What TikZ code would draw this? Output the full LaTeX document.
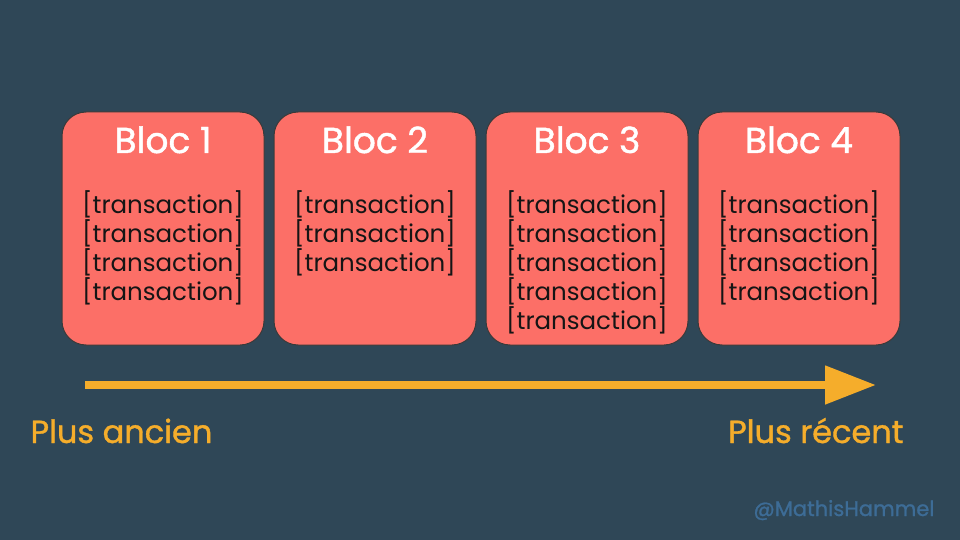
\documentclass[tikz,border=0pt]{standalone}
\usepackage{fontspec}
\setmainfont{Poppins}
\newfontfamily\epais[FakeBold=1.2]{Poppins}
\usetikzlibrary{positioning,arrows.meta}
\begin{document}
\begin{tikzpicture}[x=1pt,y=-1pt,
  bloc/.style={draw=color4,line width=1pt,fill=color2,rounded corners=24pt,
    minimum width=202pt,minimum height=233pt,inner sep=0pt,outer sep=0pt},
  titre/.style={text=white,font=\epais\fontsize{36}{42}\selectfont,anchor=base},
  trans/.style={text=color5,font=\fontsize{24.5}{29}\selectfont,anchor=base},
  legende/.style={text=color3,font=\epais\fontsize{32}{38}\selectfont},
  fleche/.style={draw=color3,line width=8pt,-{Triangle[length=51pt,width=37pt]}}]
\definecolor{color1}{HTML}{2F4757}
\definecolor{color2}{HTML}{FC6F67}
\definecolor{color3}{HTML}{F5AD2B}
\definecolor{color4}{HTML}{3A3A3A}
\definecolor{color5}{HTML}{151515}
\definecolor{color6}{HTML}{3D6C96}
\fill[color1] (0,0) rectangle (960,540);
\useasboundingbox (0,0) rectangle (960,540);
\node[bloc] (B1) at (163,228.5) {};
\node[bloc,right=10pt of B1] (B2) {};
\node[bloc,right=10pt of B2] (B3) {};
\node[bloc,right=10pt of B3] (B4) {};
\foreach \n/\k in {1/4,2/3,3/5,4/4}{
  \node[titre] (T\n) at ([yshift=-41pt]B\n.north) {Bloc \n};
  \foreach \i in {1,...,\k}
    \node[trans] (X\n-\i) at ([yshift=-72pt-29pt*\i]B\n.north) {[transaction]};
}
\coordinate[] (A1) at (85,385);
\coordinate[] (A2) at (876,385);
\draw[fleche] (A1)--(A2);
\node[legende,anchor=base west] (L1) at (27,443) {Plus ancien};
\node[legende,anchor=base east] (L2) at (907,443) {Plus récent};
\node[text=color6,font=\epais\fontsize{21}{25}\selectfont,anchor=base east] (C1) at (938,516) {@MathisHammel};
\end{tikzpicture}
\end{document}
